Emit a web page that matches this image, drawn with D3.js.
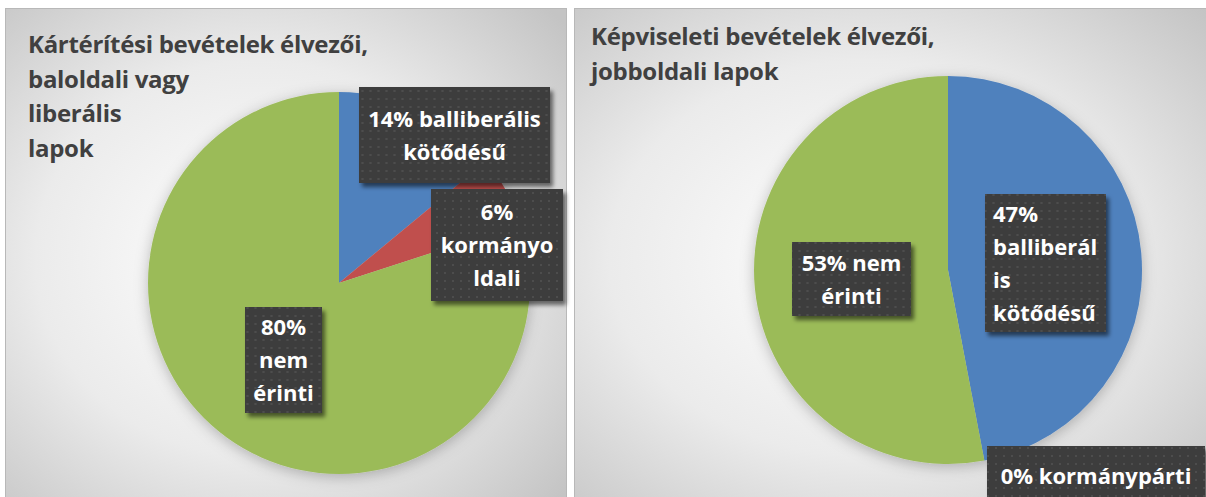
<!DOCTYPE html>
<html>
<head>
<meta charset="utf-8">
<script src="https://d3js.org/d3.v7.min.js"></script>
<style>
  body { margin: 0; background: #ffffff; }
  svg { display: block; font-family: "Open Sans", Lato, sans-serif; }
</style>
</head>
<body>
<script>
// chart values
var leftTitle = ["Kártérítési bevételek élvezői,", "baloldali vagy", "liberális", "lapok"];
var leftCategories = ["balliberális kötődésű", "kormányoldali", "nem érinti"];
var leftValues = [14, 6, 80];
var leftLabels = [["14% balliberális", "kötődésű"], ["6%", "kormányo", "ldali"], ["80%", "nem", "érinti"]];

var rightTitle = ["Képviseleti bevételek élvezői,", "jobboldali lapok"];
var rightCategories = ["balliberális kötődésű", "kormánypárti", "nem érinti"];
var rightValues = [47, 0, 53];
var rightLabels = [["47%", "balliberál", "is", "kötődésű"], ["0% kormánypárti"], ["53% nem", "érinti"]];

var sliceColours = ["#4f81bd", "#c0504d", "#9bbb59"];

var width = 1206, height = 497;

var svg = d3.select("body").append("svg")
  .attr("width", width)
  .attr("height", height);

var defs = svg.append("defs");

var grad = defs.append("radialGradient").attr("id", "bg")
  .attr("cx", "45%").attr("cy", "50%").attr("r", "72%");
grad.append("stop").attr("offset", "0%").attr("stop-color", "#ffffff");
grad.append("stop").attr("offset", "55%").attr("stop-color", "#ebebeb");
grad.append("stop").attr("offset", "100%").attr("stop-color", "#c4c4c4");

// dotted dark fill of the label boxes
var pat = defs.append("pattern").attr("id", "dots")
  .attr("width", 8).attr("height", 8).attr("patternUnits", "userSpaceOnUse");
pat.append("rect").attr("width", 8).attr("height", 8).attr("fill", "#3d3d3d");
pat.append("rect").attr("x", 3).attr("y", 3).attr("width", 2).attr("height", 2).attr("fill", "#4e4e4e");

var sh = defs.append("filter").attr("id", "boxShadow")
  .attr("x", "-20%").attr("y", "-20%").attr("width", "150%").attr("height", "150%");
sh.append("feDropShadow").attr("dx", 3).attr("dy", 4).attr("stdDeviation", 2)
  .attr("flood-color", "#000").attr("flood-opacity", 0.55);

var psh = defs.append("filter").attr("id", "pieShadow")
  .attr("x", "-20%").attr("y", "-20%").attr("width", "140%").attr("height", "140%");
psh.append("feDropShadow").attr("dx", 0).attr("dy", 3).attr("stdDeviation", 7)
  .attr("flood-color", "#000").attr("flood-opacity", 0.25);

var pie = d3.pie().sort(null).value(function(d) { return d; });

function drawPanel(p) {
  var g = svg.append("g").attr("transform", "translate(" + p.x + "," + p.y + ")");

  g.append("rect")
    .attr("x", 0.5).attr("y", 0.5)
    .attr("width", p.w).attr("height", p.h)
    .attr("fill", "url(#bg)")
    .attr("stroke", "#b8b8b8");

  g.append("g").selectAll("text")
    .data(p.title)
    .enter().append("text")
      .attr("x", p.titleX)
      .attr("y", function(d, i) { return p.titleY + i * p.titleStep; })
      .attr("fill", "#404040")
      .attr("font-size", 24)
      .attr("font-weight", "bold")
      .attr("letter-spacing", -0.3)
      .text(function(d) { return d; });

  var arc = d3.arc().innerRadius(0).outerRadius(p.r);
  var pg = g.append("g")
    .attr("transform", "translate(" + p.cx + "," + p.cy + ")");

  pg.append("g").attr("filter", "url(#pieShadow)")
    .selectAll("path")
    .data(pie(p.values))
    .enter().append("path")
      .attr("d", arc)
      .attr("fill", function(d, i) { return sliceColours[i]; });

  // data labels
  var lab = pg.selectAll(".label")
    .data(p.labels)
    .enter().append("g")
      .attr("class", "label")
      .attr("transform", function(d, i) {
        var b = p.boxes[i];
        return "translate(" + b.dx + "," + b.dy + ")";
      });

  lab.append("rect")
    .attr("x", function(d, i) { return -p.boxes[i].w / 2; })
    .attr("y", function(d, i) { return -p.boxes[i].h / 2; })
    .attr("width", function(d, i) { return p.boxes[i].w; })
    .attr("height", function(d, i) { return p.boxes[i].h; })
    .attr("fill", "url(#dots)")
    .attr("filter", "url(#boxShadow)");

  lab.each(function(lines, i) {
    var b = p.boxes[i];
    d3.select(this).selectAll("text")
      .data(lines)
      .enter().append("text")
        .attr("x", b.left ? -b.w / 2 + 8 : 0)
        .attr("y", function(d, j) { return (j - (lines.length - 1) / 2) * 33 + 8; })
        .attr("text-anchor", b.left ? "start" : "middle")
        .attr("fill", "#ffffff")
        .attr("font-size", 22)
        .attr("font-weight", "bold")
        .text(function(d) { return d; });
  });
}

drawPanel({
  x: 5, y: 8, w: 561, h: 500,
  title: leftTitle, titleX: 23, titleY: 45, titleStep: 34.5,
  values: leftValues, labels: leftLabels,
  cx: 334, cy: 275, r: 191,
  boxes: [
    {dx: 115.5, dy: -148, w: 191, h: 96},
    {dx: 158, dy: -38, w: 132, h: 112},
    {dx: -55.5, dy: 77, w: 77, h: 106}
  ]
});

drawPanel({
  x: 574, y: 8, w: 650, h: 500,
  title: rightTitle, titleX: 17, titleY: 37, titleStep: 35,
  values: rightValues, labels: rightLabels,
  cx: 374, cy: 262, r: 194,
  boxes: [
    {dx: 97.5, dy: -7, w: 121, h: 138, left: true},
    {dx: 148, dy: 206, w: 218, h: 60},
    {dx: -96.5, dy: 9, w: 119, h: 74}
  ]
});
</script>
</body>
</html>
